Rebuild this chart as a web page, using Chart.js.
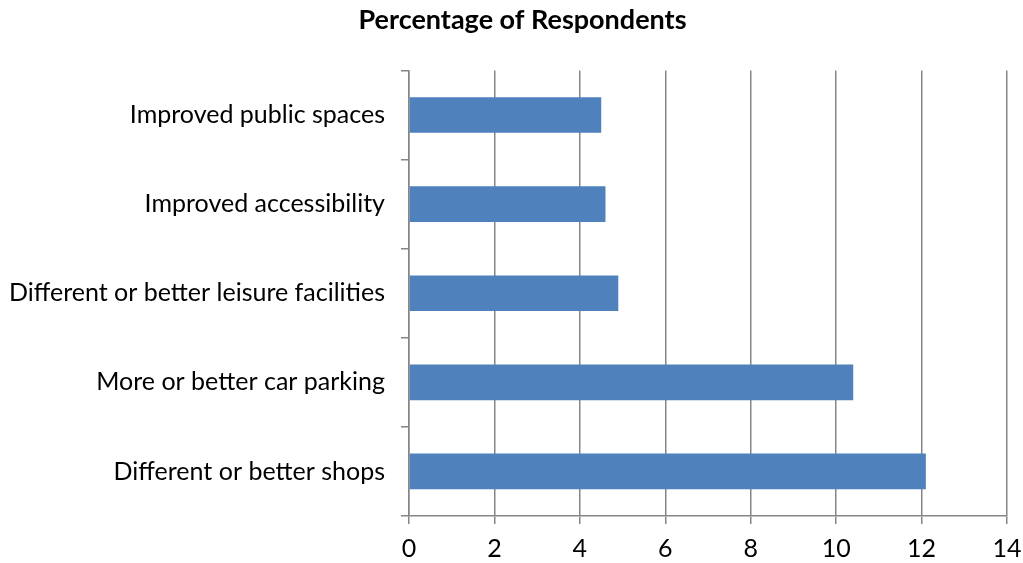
<!DOCTYPE html>
<html>
<head>
<meta charset="utf-8">
<script src="https://cdn.jsdelivr.net/npm/chart.js@4"></script>
<style>
  html, body { margin: 0; padding: 0; background: #ffffff; }
  #wrap { width: 1023px; height: 563px; position: relative; }
</style>
</head>
<body>
<div id="wrap"><canvas id="chart"></canvas></div>
<script>
// Survey answers: share of respondents choosing each improvement
const categories = [
  'Improved public spaces',
  'Improved accessibility',
  'Different or better leisure facilities',
  'More or better car parking',
  'Different or better shops'
];
const percentages = [4.5, 4.6, 4.9, 10.4, 12.1];
const tickValues = [0, 2, 4, 6, 8, 10, 12, 14];

const FONT = 'Lato, "Open Sans", sans-serif';
const AXIS_GREY = '#868686';

// Nudge the title a little to the right of the canvas centre
const titleShift = {
  id: 'titleShift',
  afterLayout(chart) {
    const t = chart.titleBlock;
    if (t) { t.left += 11; t.right += 11; }
  }
};

new Chart(document.getElementById('chart'), {
  type: 'bar',
  data: {
    labels: categories,
    datasets: [{
      label: 'Percentage of Respondents',
      data: percentages,
      backgroundColor: '#4f81bd',
      borderWidth: 0,
      categoryPercentage: 1.0,
      barPercentage: 0.4
    }]
  },
  plugins: [titleShift],
  options: {
    indexAxis: 'y',
    responsive: true,
    maintainAspectRatio: false,
    animation: false,
    layout: { padding: { left: 0, right: 0, top: 0, bottom: 0 } },
    plugins: {
      legend: { display: false },
      tooltip: { enabled: false },
      title: {
        display: true,
        text: 'Percentage of Respondents',
        color: '#000000',
        font: { family: FONT, size: 27, weight: 'bold' },
        padding: { top: 4, bottom: 34 }
      }
    },
    scales: {
      x: {
        min: 0,
        max: 14,
        afterBuildTicks: (scale) => { scale.ticks = tickValues.map(v => ({ value: v })); },
        afterFit: (scale) => {
          scale.height = 47;
          scale.paddingLeft = 0;
          scale.paddingRight = 16;
        },
        grid: {
          color: AXIS_GREY,
          lineWidth: 1.5,
          drawTicks: true,
          tickLength: 8
        },
        border: { display: true, color: AXIS_GREY, width: 1.5 },
        ticks: {
          color: '#000000',
          padding: 10,
          font: { family: FONT, size: 25 }
        }
      },
      y: {
        afterFit: (scale) => { scale.width = 409; },
        grid: {
          offset: true,
          drawOnChartArea: false,
          drawTicks: true,
          tickLength: 8,
          color: AXIS_GREY,
          lineWidth: 1.5
        },
        border: { display: true, color: AXIS_GREY, width: 1.5 },
        ticks: {
          color: '#000000',
          padding: 16,
          font: { family: FONT, size: 25 }
        }
      }
    }
  }
});
</script>
</body>
</html>
